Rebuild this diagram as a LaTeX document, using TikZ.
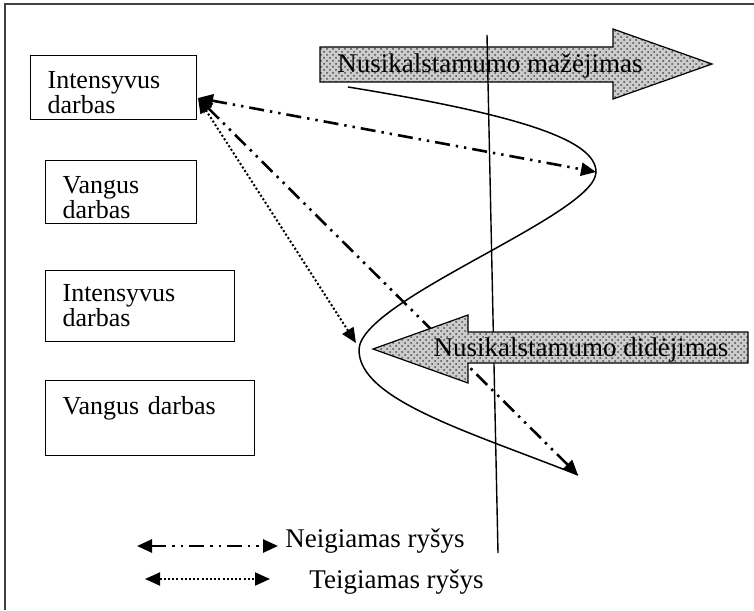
\documentclass[tikz,border=0pt]{standalone}
\usepackage{fontspec}
\setmainfont{Liberation Serif}
\usetikzlibrary{arrows.meta,patterns,calc}
\newcommand{\dgfont}{\fontsize{13}{12.5}\selectfont}
\newcommand{\arrfont}{\fontsize{13.5}{15}\selectfont}
\newcommand{\legfont}{\fontsize{13.5}{15}\selectfont}

\begin{document}
\begin{tikzpicture}[x=0.5pt, y=-0.5pt,
  box/.style={draw, line width=0.6pt, anchor=north west, align=left,
              inner xsep=8.5pt, inner ysep=0pt, font=\dgfont},
  bigarrow/.style={draw, line width=0.6pt, preaction={fill=gray!40},
                   pattern=crosshatch dots, pattern color=black!70},
  neglink/.style={line width=1.3pt, >={Triangle[length=7.5pt,width=6.5pt]}, <->,
              dash pattern=on 7.5pt off 3pt on 1.2pt off 3pt on 1.2pt off 3pt},
  poslink/.style={line width=1pt, >={Triangle[length=7.5pt,width=6.5pt]}, <->,
              dash pattern=on 1pt off 1.1pt},
  curve/.style={line width=0.75pt}]
  \useasboundingbox (0,0) rectangle (754,610);
  % frame
  \draw[line width=0.8pt, black!75] (5,610) -- (5,4) -- (754,4);

  % boxes
  \node[box, text width=66pt, minimum height=32pt] (box1) at (30,55) {\rule{0pt}{14pt}Intensyvus\\darbas};
  \node[box, text width=58.5pt, minimum height=31.5pt] (box2) at (45,160) {\rule{0pt}{14pt}Vangus\\darbas};
  \node[box, text width=77.5pt, minimum height=35.5pt] (box3) at (45,270) {Intensyvus\\darbas};
  \node[box, text width=87.5pt, minimum height=37.5pt] (box4) at (45,380) {Vangus darbas\\\mbox{}};

  % upper big arrow
  \draw[bigarrow] (320,47) -- (613,47) -- (613,29) -- (712,64) -- (613,99)
                  -- (613,82) -- (320,82) -- cycle;

  % axis
  \coordinate (axTop) at (487,35);
  \coordinate (axBot) at (498,553);
  \draw[line width=0.7pt] (axTop) -- (axBot);

  % curve
  \coordinate (cStart) at (348,87);
  \coordinate (peakR) at (596,172);
  \coordinate (peakL) at (359,350);
  \coordinate (cEnd) at (578,475);
  \draw[curve] (cStart) .. controls (520,115) and (596,140) .. (peakR)
               .. controls (596,215) and (359,300) .. (peakL)
               .. controls (359,400) and (470,432) .. (cEnd);

  % links
  \coordinate (hub) at (198,98);
  \coordinate (dotEnd) at (356,343);
  \draw[neglink] (hub) -- (peakR);
  \draw[neglink] (hub) -- (cEnd);
  \draw[poslink] (hub) -- (dotEnd);

  % lower big arrow
  \draw[bigarrow] (748,332) -- (468,332) -- (468,315) -- (373,349) -- (468,383)
                  -- (468,363) -- (748,363) -- cycle;

  \node[font=\arrfont, inner sep=0pt] (mazejimas) at (490,66) {Nusikalstamumo mažėjimas};
  \node[font=\arrfont, inner sep=0pt] (didejimas) at (581,350) {Nusikalstamumo didėjimas};

  % legend
  \coordinate (negL) at (137,546);
  \coordinate (negR) at (278,546);
  \coordinate (posL) at (145,579);
  \coordinate (posR) at (270,579);
  \draw[neglink] (negL) -- (negR);
  \draw[poslink] (posL) -- (posR);
  \node[font=\legfont, anchor=west, inner sep=0pt] (negtxt) at (285,541) {Neigiamas ryšys};
  \node[font=\legfont, anchor=west, inner sep=0pt] (postxt) at (309,582) {Teigiamas ryšys};
\end{tikzpicture}
\end{document}
